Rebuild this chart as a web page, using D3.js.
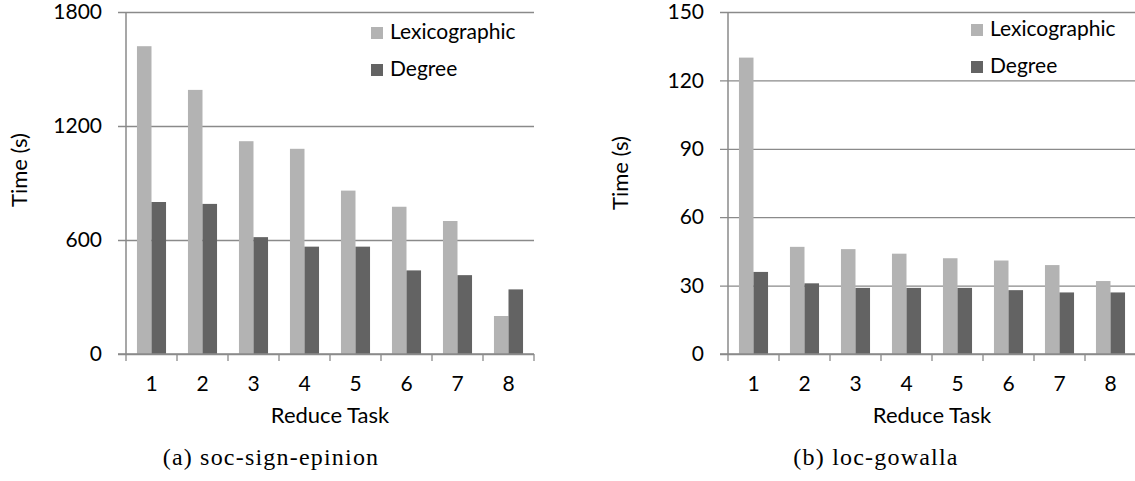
<!DOCTYPE html>
<html>
<head>
<meta charset="utf-8">
<script src="https://cdn.jsdelivr.net/npm/d3@7"></script>
<style>
  body { margin: 0; background: #fff; }
  svg { display: block; }
  .tick text { font-family: Lato, "Open Sans", sans-serif; }
</style>
</head>
<body>
<div id="chart"></div>
<script>
// ============================================================================
// data
// ============================================================================

const tasks = ["1", "2", "3", "4", "5", "6", "7", "8"];
const seriesNames = ["Lexicographic", "Degree"];

// (a) soc-sign-epinion
const epinionLexi = [1620, 1390, 1120, 1080, 860, 775, 700, 200];
const epinionDegree = [800, 790, 615, 565, 565, 440, 415, 340];
const epinionTicks = [0, 600, 1200, 1800];

// (b) loc-gowalla
const gowallaLexi = [130, 47, 46, 44, 42, 41, 39, 32];
const gowallaDegree = [36, 31, 29, 29, 29, 28, 27, 27];
const gowallaTicks = [0, 30, 60, 90, 120, 150];

// ============================================================================
// setup
// ============================================================================

const W = 1135, H = 481;
const colors = ["#b3b3b3", "#636363"];
const gridColor = "#8a8a8a";
const sansFont = "Lato, 'Open Sans', sans-serif";
const serifFont = "'Liberation Serif', 'DejaVu Serif', serif";

const svg = d3.select("#chart")
    .append("svg")
    .attr("width", W)
    .attr("height", H);

function drawPanel(p) {
    const w = p.right - p.left;
    const h = p.bottom - p.top;

    const g = svg.append("g")
        .attr("transform", `translate(${p.left},${p.top})`);

    const x = d3.scaleBand().domain(tasks).range([0, w]).padding(0);
    const y = d3.scaleLinear().domain([0, d3.max(p.ticks)]).range([h, 0]);

    // bars inside each band
    const barW = x.bandwidth() * 0.285;
    const xs = d3.scaleBand().domain(seriesNames)
        .range([x.bandwidth() / 2 - barW, x.bandwidth() / 2 + barW]);

    // gridlines + y labels
    const yAxis = g.append("g")
        .call(d3.axisLeft(y)
            .tickValues(p.ticks)
            .tickFormat(d3.format("d"))
            .tickSize(-w)
            .tickPadding(24));
    yAxis.select(".domain").remove();
    yAxis.selectAll(".tick line")
        .attr("x1", -8)
        .attr("stroke", gridColor)
        .attr("stroke-width", 1.3);
    yAxis.selectAll(".tick text")
        .attr("font-size", 21)
        .attr("fill", "#000");

    const rows = tasks.map((t, i) => ({ task: t, values: [p.lexi[i], p.degree[i]] }));

    g.append("g")
        .selectAll("g")
        .data(rows)
        .join("g")
        .attr("transform", d => `translate(${x(d.task)},0)`)
        .selectAll("rect")
        .data(d => d.values.map((v, k) => ({ key: seriesNames[k], value: v, k: k })))
        .join("rect")
        .attr("x", d => xs(d.key))
        .attr("width", xs.bandwidth())
        .attr("y", d => y(d.value))
        .attr("height", d => h - y(d.value))
        .attr("fill", d => colors[d.k]);

    // y axis line
    g.append("line")
        .attr("x1", 0).attr("x2", 0)
        .attr("y1", 0).attr("y2", h)
        .attr("stroke", gridColor)
        .attr("stroke-width", 1.5);

    // x axis line + ticks at band edges
    g.append("line")
        .attr("x1", -8).attr("x2", w)
        .attr("y1", h).attr("y2", h)
        .attr("stroke", gridColor)
        .attr("stroke-width", 1.5);

    const edges = tasks.map(t => x(t)).concat([w]);
    g.append("g")
        .selectAll("line")
        .data(edges)
        .join("line")
        .attr("x1", d => d).attr("x2", d => d)
        .attr("y1", h).attr("y2", h + 7)
        .attr("stroke", gridColor)
        .attr("stroke-width", 1.3);

    // x labels
    const xAxis = g.append("g")
        .attr("transform", `translate(0,${h})`)
        .call(d3.axisBottom(x).tickSize(0).tickPadding(22));
    xAxis.select(".domain").remove();
    xAxis.selectAll(".tick text")
        .attr("font-size", 21)
        .attr("fill", "#000");

    // axis titles
    g.append("text")
        .attr("x", w / 2)
        .attr("y", h + 69)
        .attr("text-anchor", "middle")
        .attr("font-family", sansFont)
        .attr("font-size", 22)
        .text("Reduce Task");

    svg.append("text")
        .attr("transform", `translate(${p.titleX},${p.titleY}) rotate(-90)`)
        .attr("text-anchor", "middle")
        .attr("font-family", sansFont)
        .attr("font-size", 22)
        .text("Time (s)");

    // legend
    const legend = svg.append("g")
        .selectAll("g")
        .data(seriesNames)
        .join("g")
        .attr("transform", (d, i) => `translate(${p.legendX},${p.legendY + i * 37})`);

    legend.append("rect")
        .attr("width", 12)
        .attr("height", 12)
        .attr("fill", (d, i) => colors[i]);

    legend.append("text")
        .attr("x", 19)
        .attr("y", 12)
        .attr("font-family", sansFont)
        .attr("font-size", 21)
        .text(d => d);

    // caption
    svg.append("text")
        .attr("x", p.captionX)
        .attr("y", 465)
        .attr("text-anchor", "middle")
        .attr("font-family", serifFont)
        .attr("font-size", 24)
        .attr("letter-spacing", 1.2)
        .text(p.caption);
}

drawPanel({
    left: 126, right: 534, top: 12, bottom: 354,
    ticks: epinionTicks, lexi: epinionLexi, degree: epinionDegree,
    titleX: 27, titleY: 170,
    legendX: 371, legendY: 27,
    captionX: 271, caption: "(a) soc-sign-epinion"
});

drawPanel({
    left: 728, right: 1136, top: 12, bottom: 354,
    ticks: gowallaTicks, lexi: gowallaLexi, degree: gowallaDegree,
    titleX: 628, titleY: 173,
    legendX: 971, legendY: 24,
    captionX: 876, caption: "(b) loc-gowalla"
});
</script>
</body>
</html>
